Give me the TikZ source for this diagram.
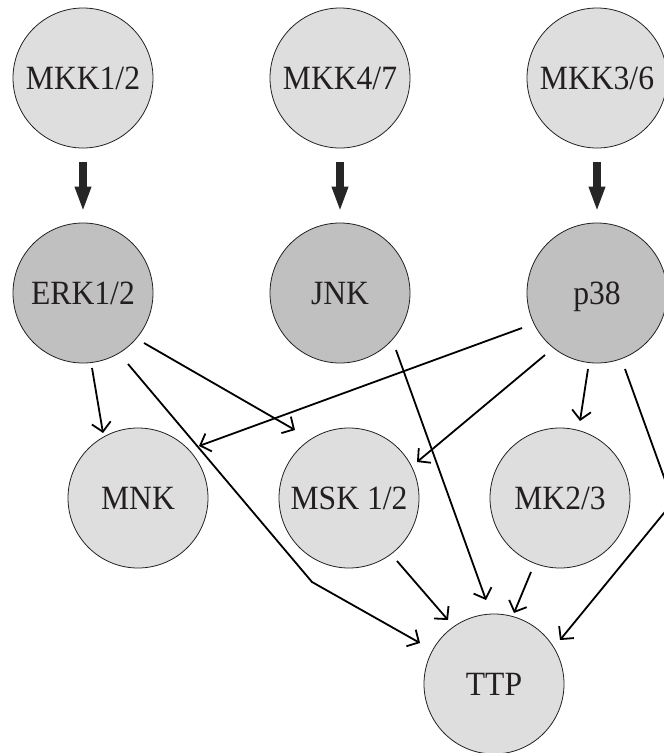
\documentclass[tikz,border=0pt]{standalone}
\usepackage{fontspec}
\setmainfont{Liberation Serif}[FakeStretch=0.93]
\usetikzlibrary{arrows.meta,calc}
\definecolor{lightfill}{HTML}{DEDEDE}
\definecolor{darkfill}{HTML}{C0C0C0}
\definecolor{inkcol}{HTML}{231F20}
\tikzset{
  kin/.style={circle, draw=inkcol, line width=0.8pt, minimum size=140pt, inner sep=0pt,
    font=\fontsize{34}{34}\selectfont, text=inkcol, text height=22.6pt, text depth=0pt},
  lightkin/.style={kin, fill=lightfill},
  darkkin/.style={kin, fill=darkfill},
  bigarrow/.style={line width=8pt, -{Triangle[length=25pt,width=15pt]}, black!85},
  thinarrow/.style={line width=1.8pt, -{Straight Barb[length=9pt,width=19pt]}, black},
}
\begin{document}
\begin{tikzpicture}[x=1pt,y=-1pt]
\useasboundingbox (0,0) rectangle (664,753);
\clip (0,0) rectangle (664,753);
% nodes
\node[lightkin] (m1) at (83,78) {MKK1/2};
\node[lightkin] (m2) at (340,78) {MKK4/7};
\node[lightkin] (m3) at (597,78) {MKK3/6};
\node[darkkin] (erk) at (83,293) {ERK1/2};
\node[darkkin] (jnk) at (340,293) {JNK};
\node[darkkin] (p38) at (597,293) {p38};
\node[lightkin] (mnk) at (138,498) {MNK};
\node[lightkin] (msk) at (349,498) {MSK 1/2};
\node[lightkin] (mk23) at (560,498) {MK2/3};
\node[lightkin] (ttp) at (494,684) {TTP};
\coordinate (bendA) at (312,582);
\coordinate (bendB) at (673,502);
% thick arrows
\draw[bigarrow, shorten <=14pt, shorten >=11pt] (m1) -- (erk);
\draw[bigarrow, shorten <=14pt, shorten >=11pt] (m2) -- (jnk);
\draw[bigarrow, shorten <=14pt, shorten >=11pt] (m3) -- (p38);
% thin arrows
\draw[thinarrow] ($(erk)+(9,75)$) -- ($(mnk)+(-35,-65)$);
\draw[thinarrow] ($(erk)+(45,71)$) -- (bendA) -- ($(ttp)+(-74,-41)$);
\draw[thinarrow] ($(erk)+(61,50)$) -- ($(msk)+(-54,-68)$);
\draw[thinarrow] ($(p38)+(-75,35)$) -- ($(mnk)+(61,-52)$);
\draw[thinarrow] ($(p38)+(-52,62)$) -- ($(msk)+(68,-36)$);
\draw[thinarrow] ($(p38)+(-9,76)$) -- ($(mk23)+(20,-77)$);
\draw[thinarrow] ($(p38)+(28,76)$) -- (bendB) -- ($(ttp)+(66,-44)$);
\draw[thinarrow] ($(jnk)+(56,57)$) -- ($(ttp)+(-8,-84)$);
\draw[thinarrow] ($(msk)+(48,63)$) -- ($(ttp)+(-46,-64)$);
\draw[thinarrow] ($(mk23)+(-29,74)$) -- ($(ttp)+(20,-71)$);
\end{tikzpicture}
\end{document}
